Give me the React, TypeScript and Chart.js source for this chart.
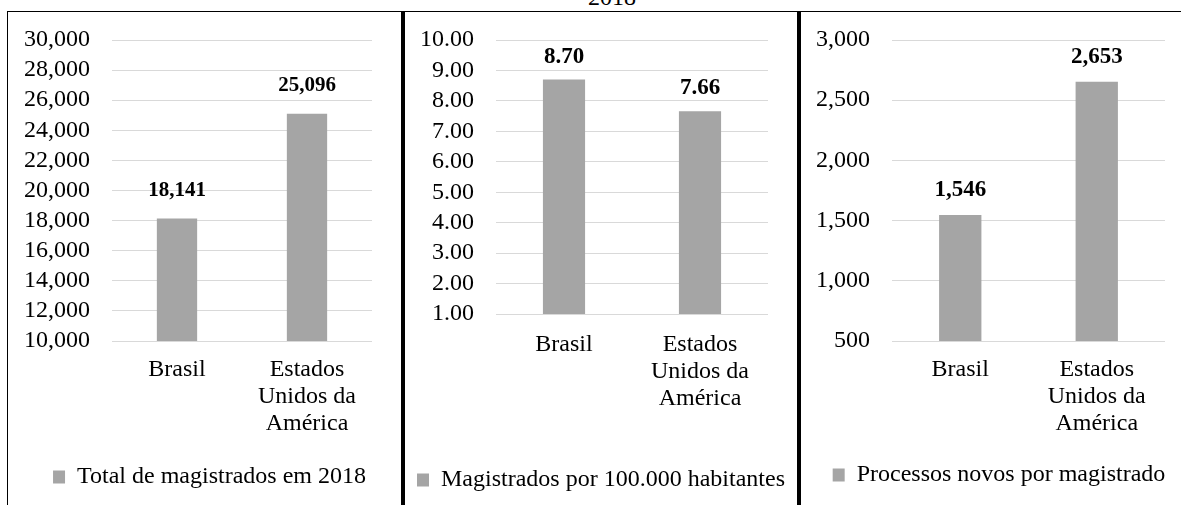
import React, { useEffect, useRef } from 'react';
import { Chart, registerables } from 'chart.js';

Chart.register(...registerables);

// ---- data ----
const categories = [['Brasil'], ['Estados', 'Unidos da', 'América']];
const totalMagistrados = [18141, 25096];
const magistradosPor100k = [8.7, 7.66];
const processosPorMagistrado = [1546, 2653];
const seriesNames = [
  'Total de magistrados em 2018',
  'Magistrados por 100.000 habitantes',
  'Processos novos por magistrado',
];
const yRange1 = [10000, 30000, 2000];
const yRange2 = [1, 10, 1];
const yRange3 = [500, 3000, 500];
const decimals = [0, 2, 0];
const titleText = '2018';

const FONT = '"Liberation Serif", "Times New Roman", serif';
const BAR = '#a5a5a5';
const GRID = '#d9d9d9';

const fmt = (v: number, d: number) =>
  Number(v).toLocaleString('en-US', { minimumFractionDigits: d, maximumFractionDigits: d });

const valueLabels = {
  id: 'valueLabels',
  afterDatasetsDraw(chart: any, _args: any, opts: any) {
    const ctx = chart.ctx;
    const meta = chart.getDatasetMeta(0);
    const data = chart.data.datasets[0].data;
    ctx.save();
    ctx.font = `bold ${opts.size}px ${FONT}`;
    ctx.fillStyle = '#000';
    ctx.textAlign = 'center';
    ctx.textBaseline = 'middle';
    meta.data.forEach((bar: any, i: number) => {
      ctx.fillText(fmt(data[i], opts.decimals), bar.x, bar.y - opts.offset);
    });
    ctx.restore();
  },
};

type PanelProps = {
  left: number;
  width: number;
  values: number[];
  name: string;
  range: number[];
  dec: number;
  padB: number;
  yWidth: number;
  rWidth: number;
  xHeight: number;
  tickPad: number;
  labelOffset: number;
  labelSize: number;
};

function Panel(p: PanelProps) {
  const ref = useRef<HTMLCanvasElement>(null);
  const height = 493;
  useEffect(() => {
    if (!ref.current) return;
    const chart = new Chart(ref.current, {
      type: 'bar',
      data: {
        labels: categories as any,
        datasets: [
          {
            label: p.name,
            data: p.values,
            backgroundColor: BAR,
            borderColor: BAR,
            borderWidth: 0,
            barPercentage: 0.31,
            categoryPercentage: 1,
          },
        ],
      },
      options: {
        responsive: false,
        animation: false,
        devicePixelRatio: 1,
        layout: { padding: { top: 28, left: 0, right: 0, bottom: p.padB } },
        scales: {
          x: {
            grid: { display: false, drawTicks: false },
            border: { display: false },
            ticks: {
              color: '#000',
              padding: p.tickPad,
              maxRotation: 0,
              autoSkip: false,
              font: { family: FONT, size: 24, lineHeight: '27px' },
            },
            afterFit: (s: any) => {
              s.height = p.xHeight;
            },
          },
          y: {
            min: p.range[0],
            max: p.range[1],
            grid: { color: GRID, lineWidth: 1, drawTicks: false },
            border: { display: false },
            ticks: {
              stepSize: p.range[2],
              autoSkip: false,
              color: '#000',
              padding: 22,
              font: { family: FONT, size: 24, lineHeight: '8px' },
              callback: (v: any) => fmt(Number(v), p.dec),
            },
            afterFit: (s: any) => {
              s.width = p.yWidth;
            },
          },
          spacer: {
            type: 'linear',
            position: 'right',
            display: true,
            min: 0,
            max: 1,
            grid: { display: false, drawTicks: false },
            border: { display: false },
            ticks: { display: false },
            afterFit: (s: any) => {
              s.width = p.rWidth;
            },
          },
        },
        plugins: {
          tooltip: { enabled: false },
          title: { display: false },
          legend: {
            display: true,
            position: 'bottom',
            labels: {
              color: '#000',
              boxWidth: 12,
              boxHeight: 13,
              padding: 10,
              font: { family: FONT, size: 24 },
            },
          },
          valueLabels: { offset: p.labelOffset, decimals: p.dec, size: p.labelSize },
        } as any,
      },
      plugins: [valueLabels],
    } as any);
    return () => chart.destroy();
  }, []);
  return (
    <canvas
      ref={ref}
      width={p.width}
      height={height}
      style={{ position: 'absolute', left: p.left, top: 12, width: p.width, height }}
    />
  );
}

export default function App() {
  return (
    <div
      style={{
        position: 'fixed',
        left: 0,
        top: 0,
        width: 1181,
        height: 505,
        background: '#fff',
        overflow: 'hidden',
      }}
    >
      <div
        style={{
          position: 'absolute',
          left: 512,
          top: -15,
          width: 200,
          textAlign: 'center',
          font: `24px ${FONT}`,
          lineHeight: '24px',
          color: '#000',
        }}
      >
        {titleText}
      </div>
      <Panel
        left={8}
        width={403}
        values={totalMagistrados}
        name={seriesNames[0]}
        range={yRange1}
        dec={decimals[0]}
        padB={6}
        yWidth={104}
        rWidth={39}
        xHeight={114}
        tickPad={15.5}
        labelOffset={28}
        labelSize={21}
      />
      <Panel
        left={405}
        width={392}
        values={magistradosPor100k}
        name={seriesNames[1]}
        range={yRange2}
        dec={decimals[1]}
        padB={3}
        yWidth={91}
        rWidth={29}
        xHeight={144}
        tickPad={17.5}
        labelOffset={23}
        labelSize={23}
      />
      <Panel
        left={801}
        width={396}
        values={processosPorMagistrado}
        name={seriesNames[2]}
        range={yRange3}
        dec={decimals[2]}
        padB={8}
        yWidth={91}
        rWidth={32}
        xHeight={112}
        tickPad={15.5}
        labelOffset={25}
        labelSize={23}
      />
      <div style={{ position: 'absolute', left: 7, top: 11, width: 1174, height: 1, background: '#000' }} />
      <div style={{ position: 'absolute', left: 7, top: 11, width: 1, height: 494, background: '#000' }} />
      <div style={{ position: 'absolute', left: 401, top: 11, width: 4, height: 494, background: '#000' }} />
      <div style={{ position: 'absolute', left: 797, top: 11, width: 4, height: 494, background: '#000' }} />
    </div>
  );
}
